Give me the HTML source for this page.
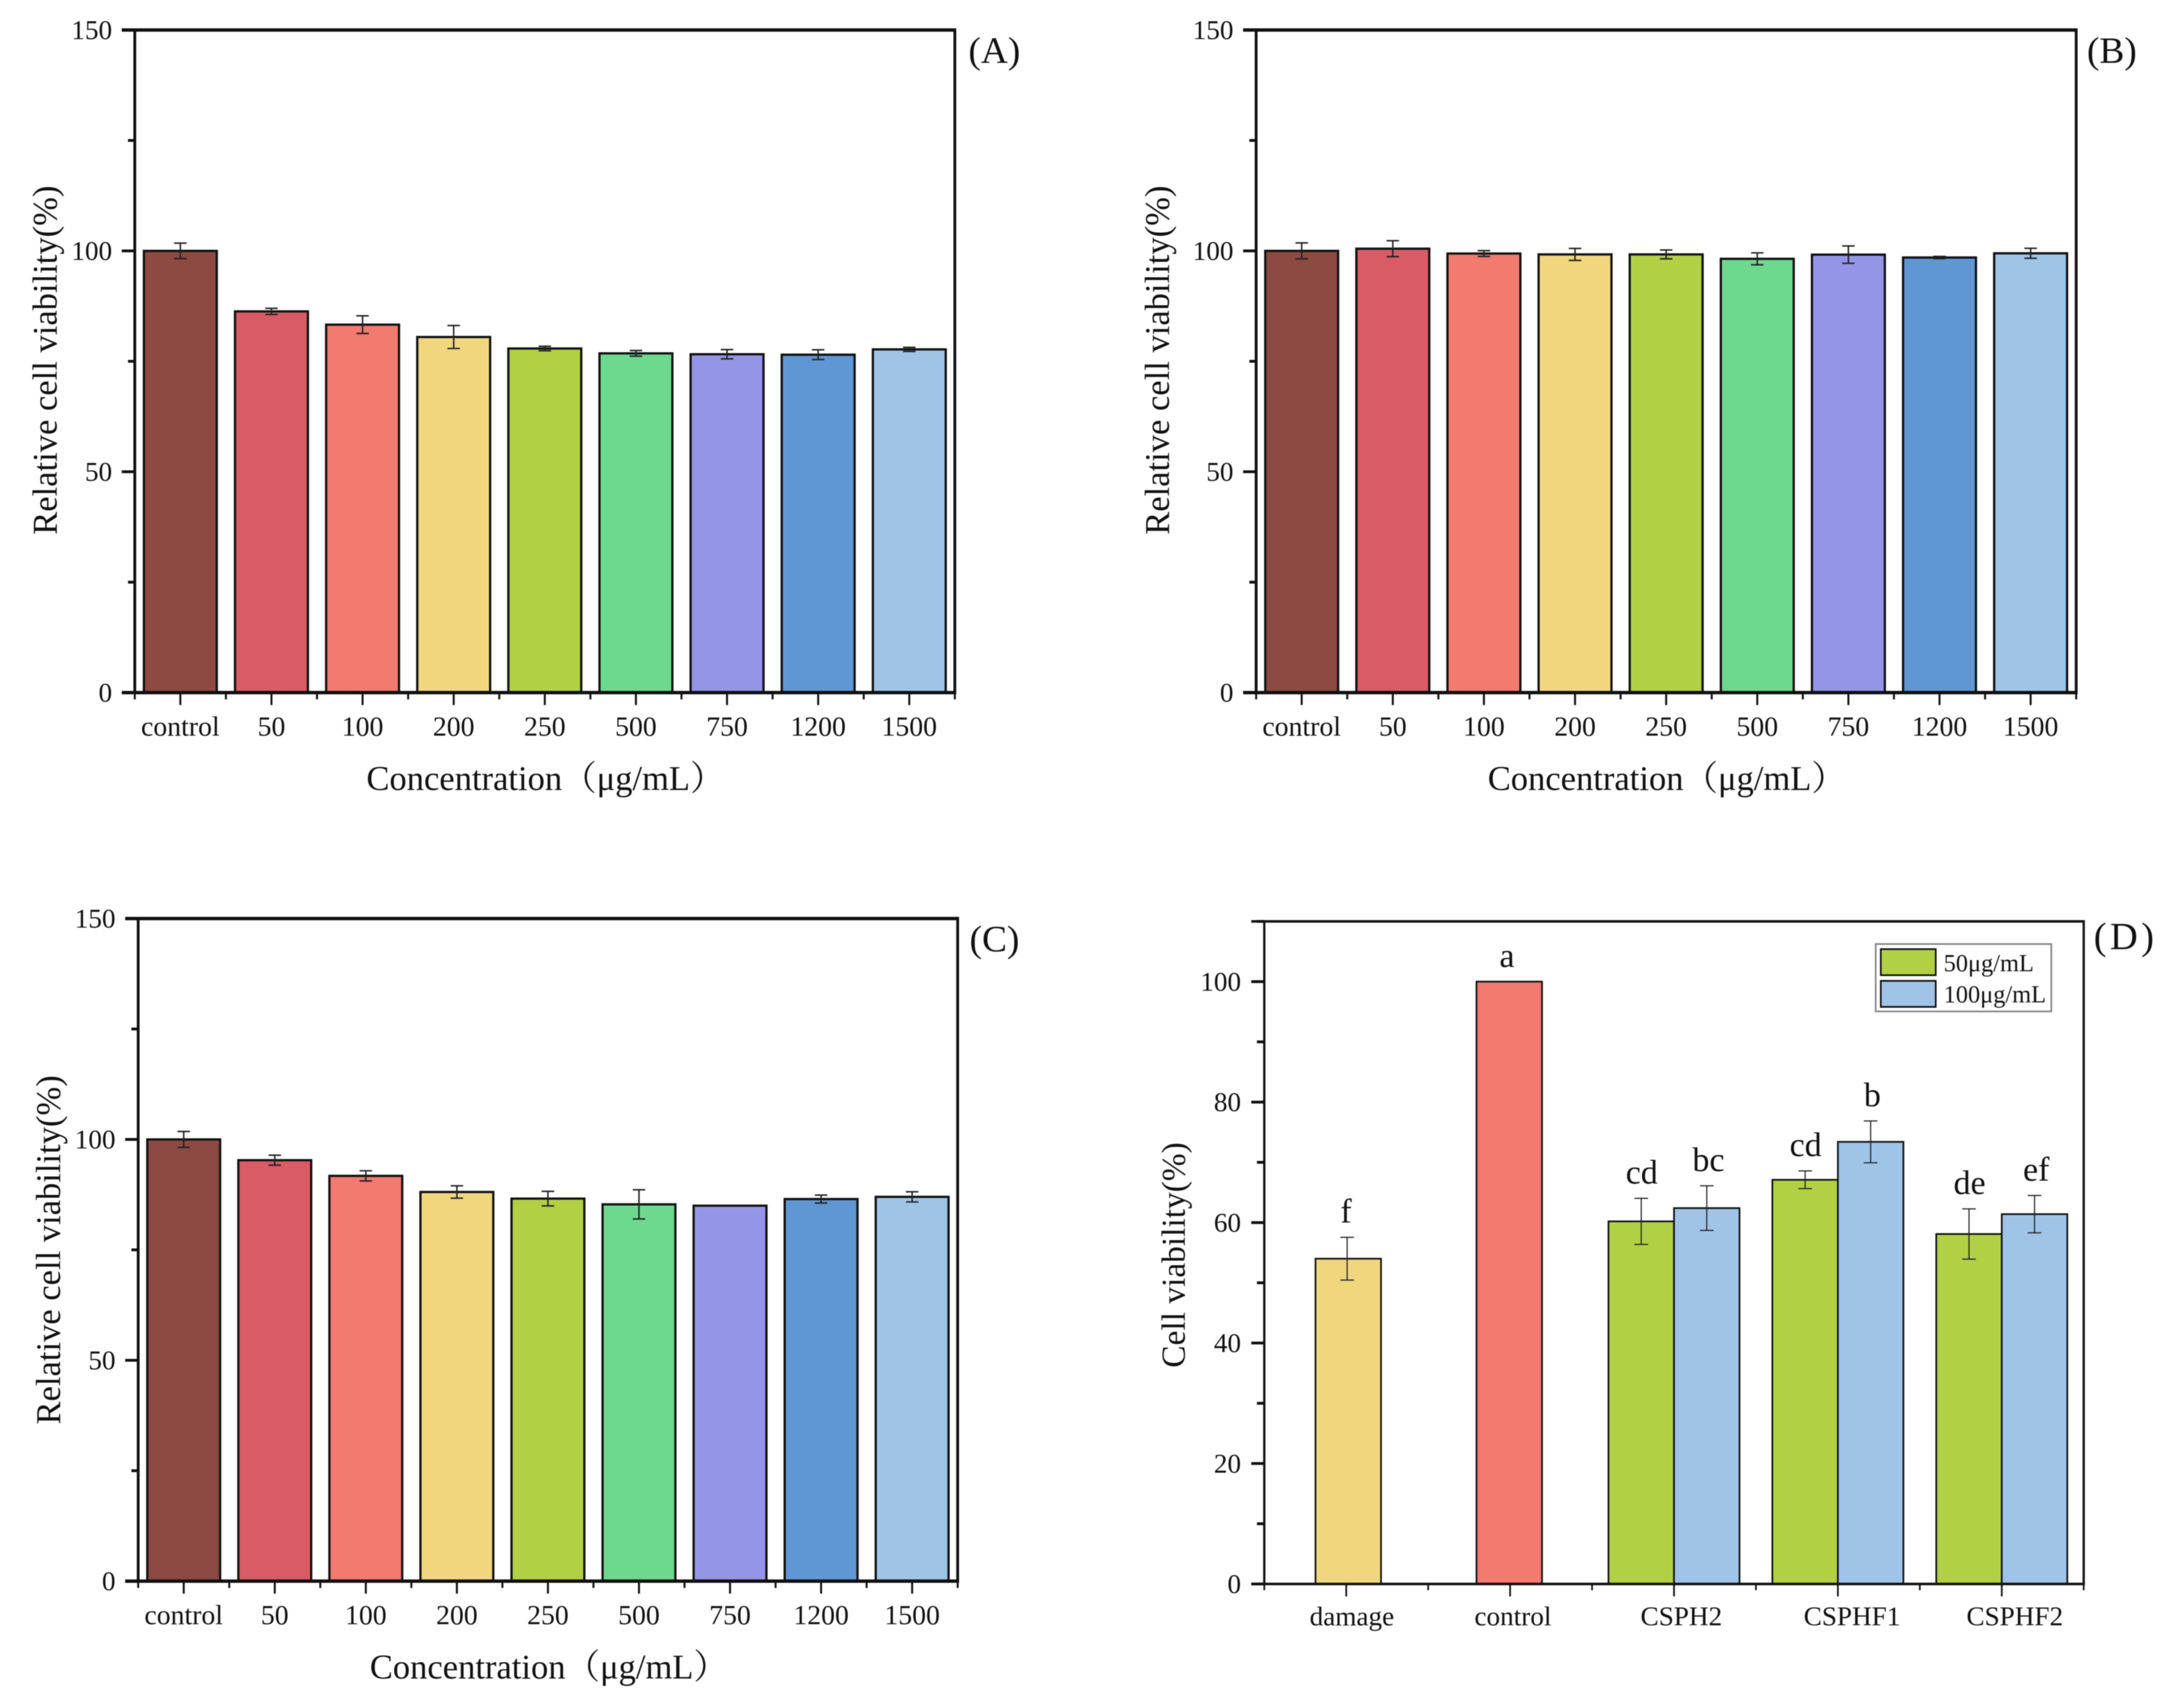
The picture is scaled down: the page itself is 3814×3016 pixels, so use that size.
<!DOCTYPE html>
<html lang="en">
<head>
<meta charset="utf-8">
<title>Relative cell viability panels</title>
<style>
html,body{margin:0;padding:0;background:#fff;}
#figure{display:block;width:3814px;height:3016px;filter:blur(0.7px);}
text{font-family:"Liberation Serif","Noto Serif CJK SC",serif;fill:#111;}
</style>
</head>
<body>
<svg id="figure" xmlns="http://www.w3.org/2000/svg" width="3814" height="3016" viewBox="0 0 3814 3016"></svg>
<script>
// ---- Data ----
const concentrations = ['control','50','100','200','250','500','750','1200','1500'];
const panelAValues = [100,86.3,83.3,80.5,77.9,76.8,76.6,76.5,77.7];
const panelAErrors = [1.76,0.7,2.0,2.6,0.5,0.64,1.05,1.1,0.47];
const panelBValues = [100,100.5,99.4,99.2,99.2,98.2,99.15,98.5,99.45];
const panelBErrors = [1.8,1.8,0.66,1.35,1.0,1.35,1.97,0.25,1.13];
const panelCValues = [100,95.3,91.75,88.1,86.6,85.3,85,86.5,87];
const panelCErrors = [1.8,1.13,1.15,1.4,1.65,3.3,0,0.9,1.15];
const viabilityTicks = [0,50,100,150];
const viabilityMinorTicks = [25,75,125];

const damageCategories = ['damage','control','CSPH2','CSPHF1','CSPHF2'];
const singleValues = [54,100];
const singleErrors = [3.55,0];
const singleLetters = ['f','a'];
const series50Values = [60.2,67.1,58.1];
const series50Errors = [3.83,1.47,4.17];
const series50Letters = ['cd','cd','de'];
const series100Values = [62.4,73.4,61.4];
const series100Errors = [3.7,3.47,3.1];
const series100Letters = ['bc','b','ef'];
const legendLabels = ['50μg/mL','100μg/mL'];
const damageTicks = [0,20,40,60,80,100];
const damageMinorTicks = [10,30,50,70,90,110];

const barColors = ['#8c4a43','#d85b66','#f27a6f','#f0d77e','#b2d045','#6dd98f','#9595e8','#5f97d4','#9fc4e8'];

// ---- Helpers ----
const NS = 'http://www.w3.org/2000/svg';
const svg = document.getElementById('figure');
function mk(parent, tag, props, content) {
  const el = document.createElementNS(NS, tag);
  Object.keys(props).forEach(function (k) { el.setAttribute(k, props[k]); });
  if (content !== undefined) el.textContent = content;
  parent.appendChild(el);
  return el;
}
function linearScale(d0, d1, r0, r1) {
  return function (v) { return r0 + (v - d0) * (r1 - r0) / (d1 - d0); };
}
function drawError(g, cx, y, v, e, capW, sw) {
  if (!e) return;
  const stem = mk(g, 'line', {x1: cx, x2: cx, y1: y(v + e), y2: y(v - e), stroke: '#222', 'stroke-width': sw});
  
  
  const capTop = mk(g, 'line', {x1: cx - capW / 2, x2: cx + capW / 2, y1: y(v + e), y2: y(v + e), stroke: '#222', 'stroke-width': sw});
  
  
  const capLow = mk(g, 'line', {x1: cx - capW / 2, x2: cx + capW / 2, y1: y(v - e), y2: y(v - e), stroke: '#222', 'stroke-width': sw});
  
  
}
function drawBar(g, x0, w, y, v, color, sw) {
  const r = mk(g, 'rect', {x: x0, y: y(v), width: w, height: y(0) - y(v), fill: color, stroke: '#111', 'stroke-width': sw});
  
  
  return r;
}
function drawYAxis(g, left, y, ticks, minors, o) {
  ticks.forEach(function (t) {
    const tk = mk(g, 'line', {x1: left - o.major, x2: left, y1: y(t), y2: y(t), stroke: '#111', 'stroke-width': o.tickW});
    
    
    const lb = mk(g, 'text', {x: left - o.labelGap, y: y(t) + 16, 'text-anchor': 'end', 'font-size': o.fs}, String(t));
    
    
  });
  minors.forEach(function (t) {
    const tk = mk(g, 'line', {x1: left - o.minor, x2: left, y1: y(t), y2: y(t), stroke: '#111', 'stroke-width': o.tickW});
    
    
  });
}
function drawFrame(g, left, right, top, bottom, tickOut, sideW, hW) {
  const l = mk(g, 'line', {x1: left, x2: left, y1: top, y2: bottom, stroke: '#111', 'stroke-width': sideW});
  
  
  const r = mk(g, 'line', {x1: right, x2: right, y1: top, y2: bottom, stroke: '#111', 'stroke-width': sideW});
  
  
  const t = mk(g, 'line', {x1: left - tickOut, x2: right + sideW / 2, y1: top, y2: top, stroke: '#111', 'stroke-width': hW});
  
  
  const b = mk(g, 'line', {x1: left - tickOut, x2: right + sideW / 2, y1: bottom, y2: bottom, stroke: '#111', 'stroke-width': hW});
  
  
}
function drawPanelLabel(g, label, x, y, fs, spacing) {
  const t = mk(g, 'text', {x: x, y: y, 'font-size': fs, 'letter-spacing': spacing}, label);
  
  
}
function drawYTitle(g, text, x, cy, fs) {
  const t = mk(g, 'text', {x: x, y: cy, 'font-size': fs, 'text-anchor': 'middle', transform: 'rotate(-90 ' + x + ' ' + cy + ')'}, text);
  
  
}

// ---- Panels A, B, C ----
function drawConcentrationPanel(name, values, errors, left, right, top, bottom, titleX, titleCy, label, labelX, labelY) {
  const g = mk(svg, 'g', {});
  
  
  const y = linearScale(0, 150, bottom, top);
  const step = (right - left) / concentrations.length;
  const x = function (i) { return left + step * (i + 0.5); };
  const barW = step * 0.8;
  values.forEach(function (v, i) {
    drawBar(g, x(i) - barW / 2, barW, y, v, barColors[i], 4);
    drawError(g, x(i), y, v, errors[i], 22, 2.6);
  });
  drawFrame(g, left, right, top, bottom, 23, 5, 6);
  drawYAxis(g, left, y, viabilityTicks, viabilityMinorTicks, {major: 23, minor: 12, tickW: 5, labelGap: 40, fs: 48});
  concentrations.forEach(function (c, i) {
    const tk = mk(g, 'line', {x1: x(i), x2: x(i), y1: bottom, y2: bottom + 22, stroke: '#111', 'stroke-width': 3.5});
    
    
    const lb = mk(g, 'text', {x: x(i), y: bottom + 76, 'text-anchor': 'middle', 'font-size': 49}, c);
    
    
  });
  for (let i = 0; i <= concentrations.length; i++) {
    const mt = mk(g, 'line', {x1: left + step * i, x2: left + step * i, y1: bottom, y2: bottom + 12, stroke: '#111', 'stroke-width': 3.5});
    
    
  }
  const xt = mk(g, 'text', {x: left + 409, y: bottom + 172, 'font-size': 61}, 'Concentration（μg/mL）');
  
  
  drawYTitle(g, 'Relative cell viability(%)', titleX, titleCy, 61);
  drawPanelLabel(g, label, labelX, labelY, 66, 0);
}
drawConcentrationPanel('panel-a', panelAValues, panelAErrors, 238, 1686, 53, 1223, 100, 636, '(A)', 1710, 111);
drawConcentrationPanel('panel-b', panelBValues, panelBErrors, 2218, 3666, 53, 1223, 2064, 636, '(B)', 3685, 111);
drawConcentrationPanel('panel-c', panelCValues, panelCErrors, 244, 1691, 1622, 2792, 106, 2207, '(C)', 1712, 1680);

// ---- Panel D ----
(function () {
  const g = mk(svg, 'g', {});
  
  
  const left = 2232.4, right = 3679.3, top = 1627, bottom = 2797;
  const y = linearScale(0, 110, bottom, top);
  const step = (right - left) / damageCategories.length;
  const x = function (i) { return left + step * (i + 0.5); };
  const barW = 115.7;
  const singleShift = [3.6, -1.5];
  const labelShift = [10, 5, 13, 25, 23];
  function letter(cx, yTop, txt) {
    const t = mk(g, 'text', {x: cx, y: yTop - 26, 'text-anchor': 'middle', 'font-size': 60}, txt);
    
    
  }
  singleValues.forEach(function (v, i) {
    const cx = x(i) + singleShift[i];
    drawBar(g, cx - barW / 2, barW, y, v, i === 0 ? barColors[3] : barColors[2], 3);
    drawError(g, cx - 2, y, v, singleErrors[i], 24, 2);
    letter(cx - 4, y(v + singleErrors[i]), singleLetters[i]);
  });
  series50Values.forEach(function (v, i) {
    const c = x(i + 2);
    drawBar(g, c - barW, barW, y, v, barColors[4], 3);
    drawBar(g, c, barW, y, series100Values[i], barColors[8], 3);
    drawError(g, c - barW / 2, y, v, series50Errors[i], 24, 2);
    drawError(g, c + barW / 2, y, series100Values[i], series100Errors[i], 24, 2);
    letter(c - barW / 2 + 1, y(v + series50Errors[i]), series50Letters[i]);
    letter(c + barW / 2 + 3, y(series100Values[i] + series100Errors[i]), series100Letters[i]);
  });
  drawFrame(g, left, right, top, bottom, 23, 4, 4.5);
  drawYAxis(g, left, y, damageTicks, damageMinorTicks, {major: 23, minor: 13, tickW: 5, labelGap: 41, fs: 48});
  damageCategories.forEach(function (c, i) {
    const tk = mk(g, 'line', {x1: x(i), x2: x(i), y1: bottom, y2: bottom + 22, stroke: '#111', 'stroke-width': 3});
    
    
    const lb = mk(g, 'text', {x: x(i) + labelShift[i], y: bottom + 73, 'text-anchor': 'middle', 'font-size': 48}, c);
    
    
  });
  for (let i = 0; i <= damageCategories.length; i++) {
    const mt = mk(g, 'line', {x1: left + step * i, x2: left + step * i, y1: bottom, y2: bottom + 11, stroke: '#111', 'stroke-width': 3});
    
    
  }
  drawYTitle(g, 'Cell viability(%)', 2092, 2216, 59);
  drawPanelLabel(g, '(D)', 3697, 1676, 68, 6);

  const legend = mk(g, 'g', {});
  
  
  const box = mk(legend, 'rect', {x: 3312, y: 1667, width: 310, height: 119, fill: '#fff', stroke: '#888', 'stroke-width': 3});
  
  
  legendLabels.forEach(function (txt, i) {
    const sw = mk(legend, 'rect', {x: 3321, y: 1676 + i * 56, width: 97, height: 46, fill: i === 0 ? barColors[4] : barColors[8], stroke: '#111', 'stroke-width': 3});
    
    
    const t = mk(legend, 'text', {x: 3432, y: 1715 + i * 55, 'font-size': 43}, txt);
    
    
  });
})();
</script>
</body>
</html>
